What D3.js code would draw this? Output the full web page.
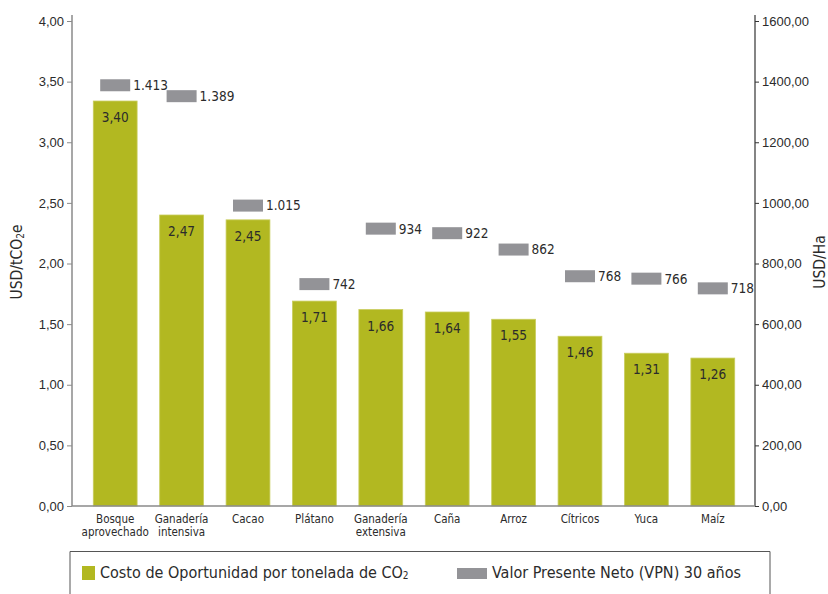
<!DOCTYPE html>
<html>
<head>
<meta charset="utf-8">
<script src="https://cdn.jsdelivr.net/npm/d3@7"></script>
<style>
  html, body { margin: 0; padding: 0; background: #fff; }
  svg { display: block; font-family: "DejaVu Sans Condensed", "DejaVu Sans", sans-serif; font-stretch: condensed; }
</style>
</head>
<body>
<svg id="chart" width="828" height="594"></svg>
<script>
// ---- data ----
const categories = [
  ["Bosque", "aprovechado"], ["Ganadería", "intensiva"], ["Cacao"], ["Plátano"],
  ["Ganadería", "extensiva"], ["Caña"], ["Arroz"], ["Cítricos"], ["Yuca"], ["Maíz"]
];
// bar heights as drawn (USD/tCO2e) and their printed labels
const costValues = [3.34, 2.40, 2.36, 1.69, 1.62, 1.60, 1.54, 1.40, 1.26, 1.22];
const costLabels = ["3,40", "2,47", "2,45", "1,71", "1,66", "1,64", "1,55", "1,46", "1,31", "1,26"];
// marker positions as drawn (USD/Ha) and their printed labels
const vpnValues = [1388, 1352, 991, 732, 915, 900, 846, 758, 750, 718];
const vpnLabels = ["1.413", "1.389", "1.015", "742", "934", "922", "862", "768", "766", "718"];
const leftTicks = [0, 0.5, 1, 1.5, 2, 2.5, 3, 3.5, 4];
const rightTicks = [0, 200, 400, 600, 800, 1000, 1200, 1400, 1600];
const legendLabels = ["Costo de Oportunidad por tonelada de CO", "Valor Presente Neto (VPN) 30 años"];

const GREEN = "#b2b821", GREY = "#939397", TEXT = "#2b2b2b";
const svg = d3.select("#chart");
const fmt2 = d => d.toFixed(2).replace(".", ",");

const plot = { left: 72, right: 755, top: 21, bottom: 506 };
const x = d3.scaleBand().domain(d3.range(categories.length))
  .range([82, 746]).paddingInner(0.34).paddingOuter(0.17);
const yL = d3.scaleLinear().domain([0, 4]).range([plot.bottom, plot.top]);
const yR = d3.scaleLinear().domain([0, 1600]).range([plot.bottom, plot.top]);

// bars
svg.append("g").selectAll("rect").data(costValues).join("rect")
  .attr("x", (d, i) => x(i)).attr("width", x.bandwidth())
  .attr("y", d => yL(d)).attr("height", d => yL(0) - yL(d))
  .attr("fill", GREEN).attr("stroke", "#c9cd5e").attr("stroke-width", 0.8);

svg.append("g").selectAll("text").data(costValues).join("text")
  .attr("x", (d, i) => x(i) + x.bandwidth() / 2).attr("y", d => yL(d) + 21)
  .attr("text-anchor", "middle").attr("font-size", 13.5).attr("fill", TEXT)
  .text((d, i) => costLabels[i]);

// VPN markers
const mw = 30, mh = 12;
svg.append("g").selectAll("rect").data(vpnValues).join("rect")
  .attr("x", (d, i) => x(i) + x.bandwidth() / 2 - mw / 2).attr("width", mw)
  .attr("y", d => yR(d) - mh / 2).attr("height", mh)
  .attr("fill", GREY);
svg.append("g").selectAll("text").data(vpnValues).join("text")
  .attr("x", (d, i) => x(i) + x.bandwidth() / 2 + mw / 2 + 3).attr("y", d => yR(d))
  .attr("dy", "0.36em").attr("font-size", 13.5).attr("fill", TEXT)
  .text((d, i) => vpnLabels[i]);

// left axis
const gL = svg.append("g").attr("transform", `translate(${plot.left},0)`)
  .call(d3.axisLeft(yL).tickValues(leftTicks).tickFormat(fmt2).tickSize(5).tickPadding(3));
gL.select(".domain").remove();
gL.append("line").attr("y1", 15).attr("y2", plot.bottom).attr("stroke", "#8a8a8a").attr("stroke-width", 1.5);
gL.selectAll(".tick line").attr("stroke", "#8a8a8a");
gL.selectAll(".tick text").attr("font-size", 13).attr("fill", TEXT).attr("font-family", null);

// right axis
const gR = svg.append("g").attr("transform", `translate(${plot.right},0)`)
  .call(d3.axisRight(yR).tickValues(rightTicks).tickFormat(fmt2).tickSize(4).tickPadding(3));
gR.select(".domain").remove();
gR.append("line").attr("y1", 15).attr("y2", plot.bottom).attr("stroke", "#333").attr("stroke-width", 1.2);
gR.selectAll(".tick line").attr("stroke", "#333");
gR.selectAll(".tick text").attr("font-size", 13).attr("fill", TEXT).attr("font-family", null);

// bottom baseline
svg.append("line").attr("x1", plot.left).attr("x2", plot.right)
  .attr("y1", plot.bottom).attr("y2", plot.bottom).attr("stroke", "#8a8a8a").attr("stroke-width", 1.5);

// category labels
const cat = svg.append("g").selectAll("text").data(categories).join("text")
  .attr("x", (d, i) => x(i) + x.bandwidth() / 2).attr("y", 523)
  .attr("text-anchor", "middle").attr("font-size", 11.5).attr("fill", TEXT);
cat.selectAll("tspan").data(d => d).join("tspan")
  .attr("x", function () { return d3.select(this.parentNode).attr("x"); })
  .attr("dy", (d, j) => j === 0 ? 0 : 13).text(d => d);

// axis titles
const tL = svg.append("text").attr("transform", "translate(22,262) rotate(-90)")
  .attr("text-anchor", "middle").attr("font-size", 15.5).attr("fill", TEXT);
tL.append("tspan").text("USD/tCO");
tL.append("tspan").attr("font-size", 10).attr("dy", 2).text("2");
tL.append("tspan").attr("dy", -2).text("e");
svg.append("text").attr("transform", "translate(825,262) rotate(-90)")
  .attr("text-anchor", "middle").attr("font-size", 15.5).attr("fill", TEXT).text("USD/Ha");

// legend
svg.append("path").attr("d", "M70,600V551.5H770V600").attr("fill", "none")
  .attr("stroke", "#555").attr("stroke-width", 1);
svg.append("rect").attr("x", 82).attr("y", 566).attr("width", 13).attr("height", 14).attr("fill", GREEN);
const l1 = svg.append("text").attr("x", 100).attr("y", 578).attr("font-size", 16).attr("fill", TEXT);
l1.append("tspan").text(legendLabels[0]);
l1.append("tspan").attr("font-size", 10).attr("dy", 1).text("2");
svg.append("rect").attr("x", 457).attr("y", 568).attr("width", 30).attr("height", 11).attr("fill", GREY);
svg.append("text").attr("x", 492).attr("y", 578).attr("font-size", 16).attr("fill", TEXT).text(legendLabels[1]);
</script>
</body>
</html>
